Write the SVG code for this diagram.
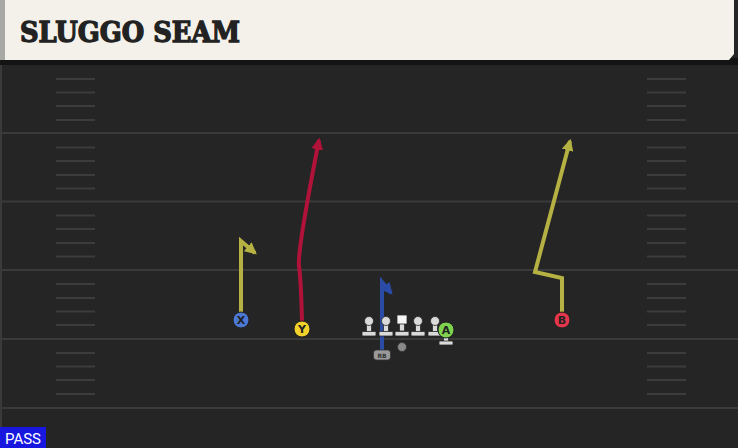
<svg xmlns="http://www.w3.org/2000/svg" width="738" height="448" viewBox="0 0 738 448">
<style>
.yl{stroke:#3a3a3a;stroke-width:2}
.rt{fill:none;stroke-width:4;stroke-linejoin:miter;stroke-linecap:butt}
.lbl{font-family:"DejaVu Sans","Liberation Sans",sans-serif;font-weight:bold;font-size:11px;text-anchor:middle;fill:#222}
.ol{fill:#dadada;stroke:#2a2a2a;stroke-width:0.8}
</style>
<defs>
<marker id="aO" viewBox="0 0 10 10" refX="8" refY="5" markerWidth="3" markerHeight="3" orient="auto" markerUnits="strokeWidth"><path d="M0,0 L10,5 L0,10 z" fill="#b5b142"/></marker>
<marker id="aR" viewBox="0 0 10 10" refX="8" refY="5" markerWidth="3" markerHeight="3" orient="auto" markerUnits="strokeWidth"><path d="M0,0 L10,5 L0,10 z" fill="#b0123a"/></marker>
<marker id="aB" viewBox="0 0 10 10" refX="8" refY="5" markerWidth="3" markerHeight="3" orient="auto" markerUnits="strokeWidth"><path d="M0,0 L10,5 L0,10 z" fill="#2b4ca6"/></marker>
<g id="lineman"><rect x="-2.5" y="-7" width="5" height="9" class="ol"/><circle cx="0" cy="-9" r="4.5" class="ol"/><rect x="-7" y="1.5" width="14" height="4.5" rx="1" class="ol"/></g>
</defs>
<rect width="738" height="448" fill="#252525"/>
<rect x="0" y="60" width="2" height="388" fill="#3a3a3a"/>
<g id="field">
<line class="yl" x1="0" y1="133" x2="738" y2="133"/>
<line class="yl" x1="0" y1="201.5" x2="738" y2="201.5"/>
<line class="yl" x1="0" y1="270" x2="738" y2="270"/>
<line class="yl" x1="0" y1="339" x2="738" y2="339"/>
<line class="yl" x1="0" y1="408" x2="738" y2="408"/>
<g fill="none" stroke-width="2" stroke="#3c3c3c">
<path d="M56 79H95M56 92.5H95M56 106H95M56 120H95M56 147.5H95M56 161H95M56 175H95M56 188.5H95M56 215.5H95M56 229H95M56 243H95M56 256.5H95M56 284H95M56 298H95M56 311.5H95M56 325H95M56 353H95M56 366.5H95M56 380H95M56 394H95"/>
<path d="M647 79H686M647 92.5H686M647 106H686M647 120H686M647 147.5H686M647 161H686M647 175H686M647 188.5H686M647 215.5H686M647 229H686M647 243H686M647 256.5H686M647 284H686M647 298H686M647 311.5H686M647 325H686M647 353H686M647 366.5H686M647 380H686M647 394H686"/>
</g>
</g>
<g id="header">
<rect x="0" y="58" width="738" height="7" fill="#141414"/>
<path d="M0 0H734V54L729 60H0Z" fill="#f4f1ea"/>
<rect x="0" y="0" width="5" height="60" fill="#a8a8a4"/>
<text x="20" y="42" font-family="'DejaVu Serif','Liberation Serif',serif" font-weight="bold" font-size="27" fill="#222" textLength="220" lengthAdjust="spacingAndGlyphs" stroke="#222" stroke-width="1.3">SLUGGO SEAM</text>
</g>
<g id="connectors">
<path class="rt" stroke="#b5b142" d="M241 312V241L255 253" marker-end="url(#aO)"/>
<path class="rt" stroke="#b0123a" d="M302 321Q301 280 299 266T319 140" marker-end="url(#aR)"/>
<path class="rt" stroke="#2b4ca6" d="M382 352V282L391 293" marker-end="url(#aB)"/>
<path class="rt" stroke="#b5b142" d="M562 312V278L535 272L570 141" marker-end="url(#aO)"/>
</g>
<g id="X"><circle cx="241" cy="320" r="8" fill="#4a78d4" stroke="#222" stroke-width="1"/><text class="lbl" x="241" y="324">X</text></g>
<g id="Y"><circle cx="302" cy="329" r="8" fill="#f2d22a" stroke="#222" stroke-width="1"/><text class="lbl" x="302" y="333">Y</text></g>
<g id="LT"><use href="#lineman" x="369" y="330"/></g>
<g id="LG"><use href="#lineman" x="386" y="330"/></g>
<g id="C"><rect x="399.5" y="322" width="5" height="9" class="ol"/><rect x="397" y="315" width="10" height="9" fill="#f6f6f6" stroke="#2a2a2a" stroke-width="0.8"/><rect x="395" y="331.5" width="14" height="4.5" rx="1" class="ol"/></g>
<g id="RG"><use href="#lineman" x="418" y="330"/></g>
<g id="RT"><use href="#lineman" x="435" y="330"/></g>
<g id="A"><rect x="443.5" y="336" width="5" height="6" class="ol"/><rect x="439" y="341" width="14" height="4" rx="1" class="ol"/><circle cx="446" cy="330" r="8" fill="#7ed24e" stroke="#222" stroke-width="1"/><text class="lbl" x="446" y="334">A</text></g>
<g id="QB"><circle cx="402" cy="347" r="4.5" fill="#8a8a8a" stroke="#333" stroke-width="0.8"/></g>
<g id="RB"><rect x="373.5" y="350" width="17" height="10" rx="3" fill="#9a9a9a" stroke="#333" stroke-width="0.8"/><text x="382" y="358" font-family="'DejaVu Sans',sans-serif" font-size="6" font-weight="bold" text-anchor="middle" fill="#333">RB</text></g>
<g id="B"><circle cx="562" cy="320" r="8" fill="#e3364a" stroke="#222" stroke-width="1"/><text class="lbl" x="562" y="324">B</text></g>
<g id="pass"><rect x="0" y="427" width="46" height="21" fill="#1717e0"/><text x="23" y="444" font-family="'Roboto','Liberation Sans',sans-serif" font-size="15" text-anchor="middle" fill="#fff">PASS</text></g>
</svg>
